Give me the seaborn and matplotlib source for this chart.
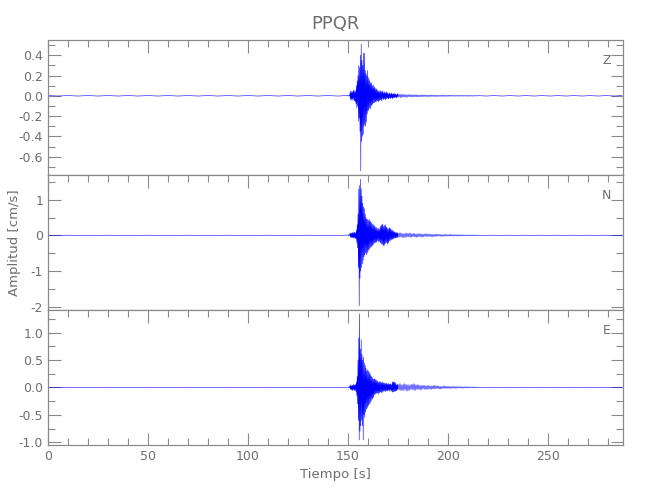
import numpy as np
import pandas as pd
import matplotlib
matplotlib.use("Agg")
import matplotlib.pyplot as plt
from matplotlib.ticker import MultipleLocator, FormatStrFormatter
import seaborn as sns

# ---------------- data (cm/s), sampled segments: (start time, step, values) ----------------
title = "PPQR"
channels = ["Z", "N", "E"]
x_label = "Tiempo [s]"
y_label = "Amplitud [cm/s]"

pre_t0, pre_dt = 0.0, 5.0
event_t0, event_dt = 150.0, 0.2
tail_t0, tail_dt = 175.0, 0.5
post_t0, post_dt = 215.0, 4.0

z_pre = [0.002, -0.002, 0.002, -0.002, 0.002, -0.002, 0.002, -0.002, 0.002, -0.002,
         0.002, -0.002, 0.002, -0.002, 0.002, -0.002, 0.002, -0.002, 0.002, -0.002,
         0.002, -0.002, 0.002, -0.002, 0.002, -0.002, 0.002, -0.002, 0.002, -0.002]
z_event = [0.003, -0.002, 0.004, -0.003, 0.002,
           0.03, -0.04, 0.05, -0.03, 0.04,
           -0.05, 0.04, -0.03, 0.05, -0.04,
           0.06, -0.05, 0.04, -0.06, 0.05,
           -0.08, 0.1, -0.12, 0.15, -0.1,
           0.2, -0.25, 0.3, -0.22, 0.28,
           -0.35, 0.4, -0.74, 0.51, -0.45,
           0.35, -0.4, 0.3, -0.38, 0.42,
           -0.3, 0.42, -0.28, 0.25, -0.3,
           0.22, -0.26, 0.2, -0.18, 0.25,
           -0.15, 0.18, -0.14, 0.16, -0.12,
           0.14, -0.13, 0.12, -0.1, 0.13,
           -0.09, 0.1, -0.08, 0.11, -0.07,
           0.08, -0.07, 0.09, -0.06, 0.07,
           -0.06, 0.07, -0.05, 0.06, -0.05,
           0.05, -0.06, 0.04, -0.05, 0.05,
           -0.04, 0.05, -0.04, 0.04, -0.05,
           0.04, -0.03, 0.05, -0.04, 0.03,
           -0.03, 0.04, -0.03, 0.03, -0.04,
           0.03, -0.03, 0.04, -0.02, 0.03,
           -0.03, 0.02, -0.03, 0.03, -0.02,
           0.02, -0.03, 0.02, -0.02, 0.03,
           -0.02, 0.02, -0.03, 0.02, -0.02,
           0.02, -0.02, 0.02, -0.01, 0.02,
           -0.02, 0.01, -0.02, 0.02, -0.01]
z_tail = [0.02, -0.015, 0.018, -0.02, 0.015, -0.012, 0.016, -0.014, 0.012, -0.015,
          0.012, -0.01, 0.013, -0.011, 0.01, -0.012, 0.01, -0.009, 0.011, -0.01,
          0.009, -0.01, 0.008, -0.009, 0.01, -0.008, 0.009, -0.007, 0.008, -0.009,
          0.007, -0.008, 0.009, -0.007, 0.008, -0.006, 0.007, -0.008, 0.006, -0.007,
          0.006, -0.007, 0.005, -0.006, 0.007, -0.005, 0.006, -0.006, 0.005, -0.006,
          0.005, -0.005, 0.006, -0.004, 0.005, -0.005, 0.004, -0.005, 0.005, -0.004,
          0.004, -0.005, 0.004, -0.004, 0.005, -0.004, 0.004, -0.003, 0.004, -0.004,
          0.003, -0.004, 0.004, -0.003, 0.003, -0.004, 0.003, -0.003, 0.004, -0.003]
z_post = [0.002, -0.002, 0.002, -0.002, 0.002, -0.002, 0.002, -0.002, 0.002, -0.002,
          0.002, -0.002, 0.002, -0.002, 0.002, -0.002, 0.002, -0.002, 0.002]

n_pre = [0.005, -0.005, 0.005, -0.005, 0.005, -0.005, 0.005, -0.005, 0.005, -0.005,
         0.005, -0.005, 0.005, -0.005, 0.005, -0.005, 0.005, -0.005, 0.005, -0.005,
         0.005, -0.005, 0.005, -0.005, 0.005, -0.005, 0.005, -0.005, 0.005, -0.005]
n_event = [0.01, -0.01, 0.01, -0.01, 0.01,
           0.05, -0.06, 0.07, -0.05, 0.06,
           -0.07, 0.08, -0.06, 0.07, -0.08,
           0.08, -0.07, 0.09, -0.08, 0.07,
           -0.1, 0.15, -0.2, 0.3, -0.35,
           0.6, -0.9, 1.3, -1.97, 1.4,
           -1.2, 1.57, -1.0, 1.3, -0.9,
           1.1, -0.8, 0.9, -0.7, 0.8,
           -0.6, 0.75, -0.55, 0.6, -0.5,
           0.5, -0.55, 0.45, -0.5, 0.45,
           -0.45, 0.42, -0.4, 0.45, -0.38,
           0.4, -0.35, 0.38, -0.32, 0.35,
           -0.3, 0.32, -0.28, 0.3, -0.25,
           0.25, -0.22, 0.28, -0.2, 0.22,
           -0.2, 0.22, -0.18, 0.2, -0.15,
           0.15, -0.18, 0.2, -0.15, 0.18,
           -0.2, 0.25, -0.22, 0.28, -0.25,
           0.3, -0.25, 0.32, -0.28, 0.25,
           -0.3, 0.28, -0.25, 0.3, -0.22,
           0.25, -0.2, 0.22, -0.25, 0.2,
           -0.22, 0.18, -0.2, 0.22, -0.15,
           0.2, -0.15, 0.18, -0.12, 0.15,
           -0.12, 0.15, -0.1, 0.12, -0.1,
           0.1, -0.08, 0.1, -0.07, 0.08,
           -0.07, 0.08, -0.06, 0.07, -0.06]
n_tail = [0.07, -0.06, 0.08, -0.05, 0.06, -0.07, 0.05, -0.06, 0.07, -0.05,
          0.06, -0.05, 0.07, -0.06, 0.05, -0.04, 0.06, -0.05, 0.04, -0.06,
          0.05, -0.04, 0.05, -0.05, 0.04, -0.05, 0.04, -0.03, 0.05, -0.04,
          0.04, -0.03, 0.04, -0.04, 0.03, -0.04, 0.03, -0.03, 0.04, -0.03,
          0.03, -0.02, 0.03, -0.03, 0.02, -0.03, 0.02, -0.02, 0.03, -0.02,
          0.02, -0.02, 0.03, -0.02, 0.02, -0.02, 0.02, -0.015, 0.02, -0.02,
          0.015, -0.02, 0.015, -0.015, 0.02, -0.015, 0.015, -0.01, 0.015, -0.015,
          0.01, -0.015, 0.01, -0.01, 0.015, -0.01, 0.01, -0.01, 0.01, -0.01]
n_post = [0.005, -0.005, 0.005, -0.005, 0.005, -0.005, 0.005, -0.005, 0.005, -0.005,
          0.005, -0.005, 0.005, -0.005, 0.005, -0.005, 0.005, -0.005, 0.005]

e_pre = [0.003, -0.003, 0.003, -0.003, 0.003, -0.003, 0.003, -0.003, 0.003, -0.003,
         0.003, -0.003, 0.003, -0.003, 0.003, -0.003, 0.003, -0.003, 0.003, -0.003,
         0.003, -0.003, 0.003, -0.003, 0.003, -0.003, 0.003, -0.003, 0.003, -0.003]
e_event = [0.005, -0.005, 0.004, -0.006, 0.005,
           0.03, -0.04, 0.05, -0.04, 0.03,
           -0.05, 0.04, -0.06, 0.05, -0.04,
           0.05, -0.06, 0.04, -0.05, 0.06,
           -0.08, 0.1, -0.15, 0.2, -0.3,
           0.5, -0.6, 0.9, -0.96, 1.34,
           -0.8, 0.7, -0.7, 0.87, -0.6,
           0.6, -0.7, 0.5, -0.96, 0.55,
           -0.5, 0.45, -0.55, 0.4, -0.45,
           0.35, -0.4, 0.3, -0.38, 0.32,
           -0.35, 0.3, -0.32, 0.28, -0.3,
           0.25, -0.28, 0.22, -0.25, 0.2,
           -0.2, 0.18, -0.22, 0.15, -0.18,
           0.15, -0.14, 0.16, -0.12, 0.14,
           -0.12, 0.13, -0.1, 0.12, -0.11,
           0.1, -0.12, 0.09, -0.1, 0.11,
           -0.09, 0.1, -0.08, 0.09, -0.1,
           0.08, -0.09, 0.1, -0.07, 0.08,
           -0.07, 0.08, -0.06, 0.07, -0.08,
           0.07, -0.06, 0.08, -0.07, 0.06,
           -0.06, 0.07, -0.05, 0.06, -0.07,
           0.06, -0.05, 0.07, -0.06, 0.05,
           -0.08, 0.1, -0.09, 0.1, -0.08,
           0.1, -0.08, 0.09, -0.07, 0.08,
           -0.06, 0.05, -0.06, 0.05, -0.04]
e_tail = [0.06, -0.05, 0.07, -0.06, 0.05, -0.06, 0.07, -0.05, 0.06, -0.07,
          0.05, -0.06, 0.05, -0.04, 0.06, -0.05, 0.07, -0.06, 0.05, -0.04,
          0.05, -0.04, 0.04, -0.05, 0.04, -0.03, 0.04, -0.04, 0.03, -0.04,
          0.04, -0.03, 0.03, -0.04, 0.03, -0.03, 0.04, -0.03, 0.03, -0.02,
          0.03, -0.03, 0.02, -0.03, 0.02, -0.02, 0.03, -0.02, 0.02, -0.02,
          0.02, -0.02, 0.015, -0.02, 0.02, -0.015, 0.015, -0.02, 0.015, -0.015,
          0.015, -0.01, 0.015, -0.015, 0.01, -0.015, 0.01, -0.01, 0.015, -0.01,
          0.01, -0.01, 0.01, -0.008, 0.01, -0.01, 0.008, -0.01, 0.008, -0.008]
e_post = [0.003, -0.003, 0.003, -0.003, 0.003, -0.003, 0.003, -0.003, 0.003, -0.003,
          0.003, -0.003, 0.003, -0.003, 0.003, -0.003, 0.003, -0.003, 0.003]

y_limits = {"Z": (-0.78, 0.55), "N": (-2.09, 1.69), "E": (-1.05, 1.41)}
y_major = {"Z": 0.2, "N": 1.0, "E": 0.5}
y_minor = {"Z": 0.1, "N": 0.5, "E": 0.25}
y_fmt = {"Z": "%.1f", "N": "%.0f", "E": "%.1f"}
x_max = 287.5

# ---------------- build the table ----------------
segments = {
    "Z": [(pre_t0, pre_dt, z_pre), (event_t0, event_dt, z_event), (tail_t0, tail_dt, z_tail), (post_t0, post_dt, z_post)],
    "N": [(pre_t0, pre_dt, n_pre), (event_t0, event_dt, n_event), (tail_t0, tail_dt, n_tail), (post_t0, post_dt, n_post)],
    "E": [(pre_t0, pre_dt, e_pre), (event_t0, event_dt, e_event), (tail_t0, tail_dt, e_tail), (post_t0, post_dt, e_post)],
}
frames = []
for ch, segs in segments.items():
    for t0, dt, vals in segs:
        t = t0 + dt * np.arange(len(vals))
        frames.append(pd.DataFrame({"t": t, "v": vals, "ch": ch}))
df = pd.concat(frames, ignore_index=True).sort_values(["ch", "t"])

# ---------------- style ----------------
sns.set_style("white")
plt.rcParams["font.family"] = ["DejaVu Sans"]
gray = "#8a8a8a"
txt = "#6e6e6e"

fig, axes = plt.subplots(3, 1, figsize=(6.5, 5), dpi=100, sharex=True)
fig.subplots_adjust(left=48 / 650, right=623 / 650, top=1 - 40 / 500, bottom=1 - 445 / 500, hspace=0)

for i, (ax, ch) in enumerate(zip(axes, channels)):
    sub = df[df["ch"] == ch]
    sns.lineplot(data=sub, x="t", y="v", ax=ax, color="#0000ff", lw=0.4,
                 estimator=None, sort=False)
    ax.set_xlim(0, x_max)
    ax.set_ylim(*y_limits[ch])
    ax.yaxis.set_major_locator(MultipleLocator(y_major[ch]))
    ax.yaxis.set_minor_locator(MultipleLocator(y_minor[ch]))
    ax.yaxis.set_major_formatter(FormatStrFormatter(y_fmt[ch]))
    ax.xaxis.set_major_locator(MultipleLocator(50))
    ax.xaxis.set_minor_locator(MultipleLocator(10))
    for s in ax.spines.values():
        s.set_color(gray)
        s.set_linewidth(0.9)
    last = (i == len(channels) - 1)
    ax.tick_params(which="both", direction="in", colors=gray, labelcolor=txt,
                   top=True, bottom=last, left=True, right=True, labelsize=9,
                   labelbottom=last)
    ax.tick_params(which="major", length=9, width=0.8)
    ax.tick_params(which="minor", length=5, width=0.8)
    ax.set_xlabel("")
    ax.set_ylabel("")
    ax.text(0.972, 0.85, ch, transform=ax.transAxes, ha="center", va="center",
            color=txt, fontsize=9)

axes[0].set_title(title, color=txt, fontsize=13, pad=8)
axes[-1].set_xlabel(x_label, color=txt, fontsize=9.5)
fig.text(0.022, 1 - 243 / 500, y_label, rotation=90, ha="center", va="center",
         color=txt, fontsize=9.5)

fig.savefig("out.png", dpi=100, facecolor="white")
